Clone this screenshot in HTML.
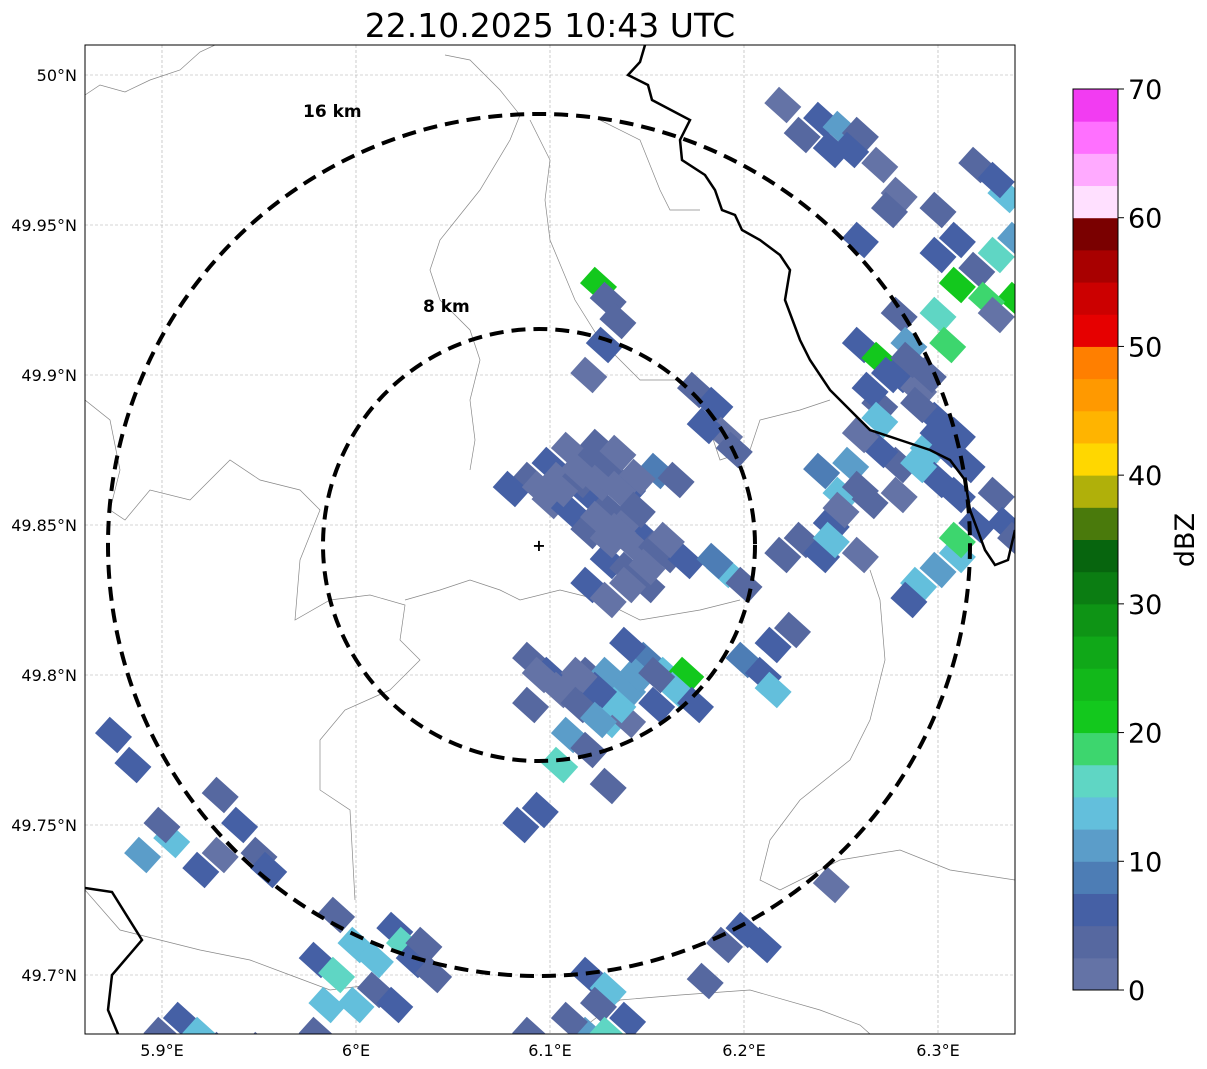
<!DOCTYPE html>
<html><head><meta charset="utf-8"><style>
body{margin:0;background:#fff;font-family:"DejaVu Sans","Liberation Sans",sans-serif}
svg{display:block}
</style></head><body>
<svg id="fig" width="1207" height="1069" xmlns="http://www.w3.org/2000/svg" font-family="DejaVu Sans, Liberation Sans, sans-serif">
<text x="550" y="37" font-size="33" text-anchor="middle">22.10.2025 10:43 UTC</text>
<defs><clipPath id="mapclip"><rect x="85" y="45" width="930" height="989"/></clipPath></defs>
<g id="map" clip-path="url(#mapclip)"></g>
<rect x="85" y="45" width="930" height="989" fill="none" stroke="#000" stroke-width="1"/>
<g id="axes"></g>
<g id="cbar"></g>
</svg>
<script>
const lonTicks=[5.9,6.0,6.1,6.2,6.3];
const latTicks=[50.0,49.95,49.9,49.85,49.8,49.75,49.7];
const cbTicks=[0,10,20,30,40,50,60,70];
const cbColors=["#6473a6","#5668a0","#4560a5","#4d7db5","#5b9dc9","#63bfdc","#5fd6c4","#3dd66e","#13c81d","#12b81a","#10a818","#0e9415","#0b7d12","#07650e","#4a7a0c","#b0b00a","#ffd700","#ffb400","#ff9900","#ff7f00","#e60000","#cc0000","#a80000","#7a0000","#ffe0ff","#ffaaff","#ff70ff","#f23cf2"];
const cellLon=[6.09,6.10,6.11,6.12,6.13,6.14,6.10,6.11,6.12,6.13,6.12,6.14,6.15,6.16,6.17,6.13,6.14,6.15,6.12,6.13,6.19,6.185,6.2,6.155,6.165,6.08,
6.09,6.10,6.11,6.12,6.13,6.14,6.15,6.16,6.17,6.165,6.12,6.13,6.11,6.105,6.12,6.14,6.155,6.09,6.095,6.085,6.13,6.175,
6.175,6.185,6.19,6.195,6.18,6.125,6.13,6.135,6.128,6.12,
6.26,6.27,6.28,6.285,6.28,6.27,6.29,6.3,6.31,6.295,6.28,6.27,6.255,6.25,6.265,6.28,6.3,6.31,6.24,6.245,6.3,6.31,6.32,6.33,6.34,6.325,6.33,6.305,6.295,6.3,6.31,6.34,6.33,6.335,6.34,6.31,6.3,6.29,6.285,6.31,6.32,6.23,6.24,6.22,6.245,6.26,6.215,6.225,6.2,6.21,6.215,
6.23,6.24,6.25,6.26,6.255,6.27,6.245,6.22,6.32,6.335,6.33,6.28,6.26,6.275,
5.93,5.94,5.93,5.92,5.905,5.9,5.89,5.95,5.955,5.875,5.885,
5.99,6.0,6.01,6.02,6.025,6.03,6.04,5.98,5.99,5.985,6.0,6.01,5.98,6.02,6.035,
5.9,5.91,5.92,5.93,5.95,
6.12,6.13,6.125,6.12,6.11,6.14,6.09,6.13,
6.2,6.21,6.19,6.18,6.245,6.3,
6.095,6.105,6.115,6.125,6.135,6.105,6.115,6.125,6.135,6.145,6.125,6.135,6.145,6.155,6.14,6.15,6.16,6.145,6.13,
6.095,6.105,6.115,6.125,6.135,6.145,6.155,6.125,6.115,6.14,
6.265,6.275,6.285,6.26,6.27,6.29,6.305,6.315,6.25,6.26,6.29,6.3];
const cellLat=[49.865,49.87,49.875,49.87,49.868,49.862,49.858,49.855,49.86,49.855,49.848,49.85,49.845,49.84,49.838,49.838,49.835,49.83,49.83,49.825,49.835,49.838,49.83,49.868,49.865,49.862,
49.805,49.80,49.795,49.80,49.80,49.795,49.805,49.80,49.80,49.795,49.79,49.785,49.78,49.77,49.775,49.785,49.79,49.79,49.755,49.75,49.763,49.79,
49.895,49.89,49.88,49.875,49.883,49.93,49.925,49.918,49.91,49.9,
49.91,49.905,49.92,49.91,49.9,49.89,49.895,49.885,49.88,49.875,49.87,49.875,49.87,49.86,49.858,49.86,49.865,49.86,49.868,49.85,49.92,49.93,49.935,49.94,49.925,49.925,49.92,49.91,49.9,49.94,49.945,49.945,49.86,49.85,49.845,49.84,49.835,49.83,49.825,49.845,49.85,49.845,49.84,49.84,49.845,49.84,49.81,49.815,49.805,49.8,49.795,
49.98,49.985,49.982,49.98,49.975,49.97,49.975,49.99,49.97,49.96,49.965,49.96,49.945,49.955,
49.76,49.75,49.74,49.735,49.745,49.75,49.74,49.74,49.735,49.78,49.77,
49.72,49.71,49.705,49.715,49.71,49.705,49.7,49.705,49.7,49.69,49.69,49.695,49.68,49.69,49.71,
49.68,49.685,49.68,49.675,49.675,
49.7,49.695,49.69,49.68,49.685,49.685,49.68,49.68,
49.715,49.71,49.71,49.698,49.73,49.955,
49.862,49.865,49.865,49.864,49.862,49.862,49.868,49.876,49.874,49.866,49.852,49.848,49.842,49.842,49.83,49.836,49.845,49.855,49.845,
49.80,49.795,49.79,49.785,49.79,49.80,49.8,49.795,49.8,49.81,
49.895,49.9,49.905,49.88,49.885,49.89,49.875,49.87,49.855,49.862,49.87,49.88];
const cellDbz=[3,5,2,4,3,5,2,6,7,3,4,2,5,3,6,5,3,4,6,2,13,8,4,9,4,6,
3,5,2,4,11,12,8,13,20,14,6,14,10,15,3,2,5,4,6,5,3,7,
3,5,2,4,6,20,4,3,6,2,
5,20,3,12,6,4,2,5,7,13,3,6,11,14,4,2,5,6,9,5,15,21,3,17,22,19,2,18,4,6,5,12,4,7,3,14,12,13,5,18,6,4,7,3,13,2,5,3,8,6,14,
3,5,12,4,6,2,7,2,4,13,6,2,5,3,
3,5,2,6,13,4,12,3,5,6,5,
4,13,14,7,15,5,3,5,16,13,14,3,4,6,4,
3,5,13,4,2,
5,13,4,11,3,6,4,16,
6,5,4,3,2,3,
2,1,3,1,2,2,1,3,2,1,1,2,1,3,2,1,2,3,1,
2,1,3,12,13,11,4,5,2,7,
5,6,4,2,14,3,5,6,2,4,13,5];

const X0=85,X1=1015,Y0=45,Y1=1034;
const xS=v=>162+(v-5.9)*1940;
const yS=v=>75+(50-v)*3000;
const NS="http://www.w3.org/2000/svg";
function mk(t,a,p){const e=document.createElementNS(NS,t);for(const k in a)e.setAttribute(k,a[k]);p.appendChild(e);return e;}
const map=document.getElementById('map'),axes=document.getElementById('axes'),cb=document.getElementById('cbar');

lonTicks.forEach(v=>{const l=mk('line',{x1:xS(v),x2:xS(v),y1:Y0,y2:Y1,stroke:'#aaa','stroke-width':0.6,'stroke-dasharray':'3,2'},map);

});
latTicks.forEach(v=>{const l=mk('line',{x1:X0,x2:X1,y1:yS(v),y2:yS(v),stroke:'#aaa','stroke-width':0.6,'stroke-dasharray':'3,2'},map);

});

const greyPaths=["M85,95 L100,85 L125,92 L150,80 L180,70 L200,52 L215,45",
"M85,400 L110,420 L120,470 L110,510 L125,520 L150,490 L190,500 L230,460 L260,480 L300,490 L320,510 L300,560 L295,620 L330,600 L370,595 L405,605 L400,640 L420,660 L390,690 L345,710 L320,740 L320,790 L350,810 L355,900",
"M405,600 L440,590 L470,580 L500,590 L520,600 L560,590 L600,600 L640,620 L700,610 L740,600",
"M445,55 L470,60 L500,90 L520,115 L510,140 L480,190 L460,215 L440,240 L430,270 L440,300 L470,330 L480,360 L470,400 L475,440 L470,470",
"M530,120 L550,160 L545,200 L550,240 L575,300 L600,340 L640,380 L680,380 L700,400 L720,460 L750,450 L760,420 L800,410 L830,400",
"M85,890 L120,930 L160,940 L200,950 L250,960 L290,975 L330,990 L370,985",
"M580,1030 L620,1000 L680,995 L750,990 L820,1010 L860,1025 L870,1034",
"M870,570 L880,600 L885,660 L870,720 L850,760 L800,800 L770,840 L760,880 L780,890 L840,860 L900,850 L950,870 L1015,880",
"M600,120 L640,140 L660,190 L670,210 L700,210"];
greyPaths.forEach(d=>{const p=mk('path',{d:d,fill:'none',stroke:'#888','stroke-width':0.7},map);

});

for(let i=0;i<cellDbz.length;i++){
 const cx=xS(cellLon[i]),cy=yS(cellLat[i]);
 const ci=Math.max(0,Math.min(27,Math.floor(cellDbz[i]/2.5)));
 const r=mk('rect',{x:cx-15,y:cy-11,width:30,height:22,fill:cbColors[ci],transform:`rotate(42 ${cx} ${cy})`},map);
 
 
}

const blackPaths=["M645,45 L640,62 L628,75 L648,85 L652,100 L690,120 L680,140 L682,160 L705,175 L715,190 L722,210 L735,215 L742,230 L760,240 L780,255 L790,270 L785,300 L800,340 L810,360 L830,390 L850,410 L870,430 L900,440 L930,450 L950,460 L965,480 L970,510 L985,550 L995,565 L1008,560 L1015,530",
"M85,888 L112,892 L142,940 L112,975 L108,1010 L118,1034"];
blackPaths.forEach(d=>{const p=mk('path',{d:d,fill:'none',stroke:'#000','stroke-width':2.5},map);

});

const cx0=539,cy0=545;
[[216,'8 km',423,312],[431,'16 km',303,117]].forEach(r=>{
 const c=mk('circle',{cx:cx0,cy:cy0,r:r[0],fill:'none',stroke:'#000','stroke-width':4,'stroke-dasharray':'14,8'},map);
 
 
 const t=mk('text',{x:r[2],y:r[3],'font-size':17,'font-weight':'bold'},map);t.textContent=r[1];
 
 
});
const pl=mk('text',{x:cx0,y:cy0+6,'font-size':16,'font-weight':'bold','text-anchor':'middle'},map);pl.textContent='+';



lonTicks.forEach(v=>{const t=mk('text',{x:xS(v),y:1056,'font-size':16,'text-anchor':'middle'},axes);t.textContent=v.toFixed(1).replace(/\.0$/,'')+'°E';

});
latTicks.forEach(v=>{const t=mk('text',{x:77,y:yS(v)+6,'font-size':16,'text-anchor':'end'},axes);
let s=v.toFixed(2).replace(/0$/,'');if(v===50)s='50';t.textContent=s+'°N';

});

const cbX=1073,cbW=45,cbTop=89,cbBot=990,per=(cbBot-cbTop)/70;
cbColors.forEach((c,i)=>{const r=mk('rect',{x:cbX,y:cbBot-(i+1)*2.5*per,width:cbW,height:2.5*per+0.5,fill:c},cb);

});
const fr=mk('rect',{x:cbX,y:cbTop,width:cbW,height:cbBot-cbTop,fill:'none',stroke:'#000','stroke-width':1},cb);


cbTicks.forEach(v=>{const y=cbBot-v*per;mk('line',{x1:cbX+cbW,x2:cbX+cbW+6,y1:y,y2:y,stroke:'#000'},cb);
const t=mk('text',{x:cbX+cbW+10,y:y+10,'font-size':27},cb);t.textContent=v;

});
const lab=mk('text',{x:1194,y:540,'font-size':27,'text-anchor':'middle',transform:'rotate(-90 1194 540)'},cb);lab.textContent='dBZ';


</script>
</body></html>
